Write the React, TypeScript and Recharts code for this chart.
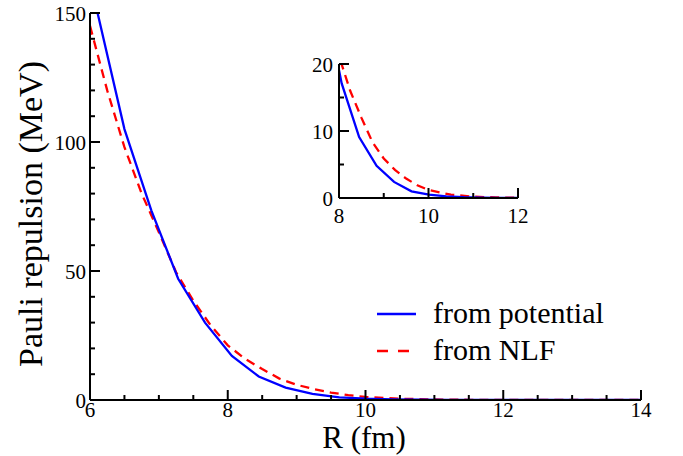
import { LineChart, Line, XAxis, YAxis } from "recharts";

// "from potential" curve (solid blue)
const R_POT = [6.11, 6.5, 6.89, 7.28, 7.67, 8.06, 8.45, 8.84, 9.23, 9.62, 10.01, 10.4, 10.79, 11.18, 11.57, 11.96, 12.35, 12.74, 13.13, 13.52, 13.91, 14.0];
const E_POT = [150, 105, 73.5, 47, 30, 17.1, 9.1, 4.8, 2.4, 1.0, 0.5, 0.25, 0.12, 0.06, 0.03, 0.01, 0, 0, 0, 0, 0, 0];

// "from NLF" curve (dashed red)
const R_NLF = [6.0, 6.25, 6.5, 6.75, 7.0, 7.25, 7.5, 7.75, 8.0, 8.25, 8.5, 8.75, 9.0, 9.25, 9.5, 9.75, 10.0, 10.5, 11.0, 11.5, 12.0, 13.0, 14.0];
const E_NLF = [145, 120, 98, 80, 65, 49.5, 38.5, 29, 21.2, 16, 12, 8.3, 5.9, 4.2, 2.9, 1.9, 1.2, 0.5, 0.2, 0.08, 0.03, 0, 0];

const MAIN_X_TICKS = [6, 6.5, 7, 7.5, 8, 8.5, 9, 9.5, 10, 10.5, 11, 11.5, 12, 12.5, 13, 13.5, 14];
const MAIN_Y_TICKS = [0, 10, 20, 30, 40, 50, 60, 70, 80, 90, 100, 110, 120, 130, 140, 150];
const INSET_X_TICKS = [8, 9, 10, 11, 12];
const INSET_Y_TICKS = [0, 5, 10, 15, 20];

const SERIES = ["from potential", "from NLF"];
const X_TITLE = "R (fm)";
const Y_TITLE = "Pauli repulsion (MeV)";

const FONT = '"Liberation Serif"';
const BLUE = "#0000ff";
const RED = "#ff0000";

const potData = R_POT.map((r, i) => ({ r, e: E_POT[i] }));
const nlfData = R_NLF.map((r, i) => ({ r, e: E_NLF[i] }));

const txt = (size: number) => ({ fontFamily: FONT, fontSize: size });

// ticks point inward, label only on major values
// eslint-disable-next-line @typescript-eslint/no-explicit-any
const BottomTick = ({ x, y, payload, major, labelDy }: any) => {
  const isMajor = payload.value % major === 0;
  return (
    <g>
      <line x1={x} x2={x} y1={y} y2={y - (isMajor ? 10 : 5)} stroke="#000" strokeWidth={2} />
      {isMajor && (
        <text x={x} y={y + labelDy} textAnchor="middle" fill="#000" style={txt(21)}>
          {payload.value}
        </text>
      )}
    </g>
  );
};

// eslint-disable-next-line @typescript-eslint/no-explicit-any
const LeftTick = ({ x, y, payload, major, gap }: any) => {
  const isMajor = payload.value % major === 0;
  return (
    <g>
      <line x1={x} x2={x + (isMajor ? 10 : 5)} y1={y} y2={y} stroke="#000" strokeWidth={2} />
      {isMajor && (
        <text x={x - gap} y={y} dy="0.36em" textAnchor="end" fill="#000" style={txt(21)}>
          {payload.value}
        </text>
      )}
    </g>
  );
};

const frame = { stroke: "#000", strokeWidth: 2 };

function Inset() {
  return (
    <LineChart width={239} height={190} margin={{ top: 10, right: 10, bottom: 0, left: 0 }}>
      <XAxis dataKey="r" type="number" domain={[8, 12]} ticks={INSET_X_TICKS} interval={0} allowDataOverflow
        height={46} tickSize={0} tickMargin={0} tickLine={false} axisLine={frame}
        tick={<BottomTick major={2} labelDy={25} />} />
      <XAxis xAxisId="top" orientation="top" type="number" domain={[8, 12]} height={0} tick={false} tickLine={false} axisLine={frame} />
      <YAxis type="number" domain={[0, 20]} ticks={INSET_Y_TICKS} interval={0} allowDataOverflow
        width={50} tickSize={0} tickMargin={0} tickLine={false} axisLine={frame}
        tick={<LeftTick major={10} gap={6} />} />
      <YAxis yAxisId="right" orientation="right" domain={[0, 20]} width={0} tick={false} tickLine={false} axisLine={frame} />
      <Line data={nlfData} dataKey="e" stroke={RED} strokeWidth={2.3} strokeDasharray="9 6" dot={false} type="linear" isAnimationActive={false} />
      <Line data={potData} dataKey="e" stroke={BLUE} strokeWidth={2.3} dot={false} type="linear" isAnimationActive={false} />
    </LineChart>
  );
}

export default function App() {
  return (
    <div style={{ position: "absolute", left: 0, top: 0, width: 683, height: 456, background: "#fff" }}>
      <LineChart width={683} height={456} margin={{ top: 13, right: 42, bottom: 0, left: 0 }}>
        <XAxis dataKey="r" type="number" domain={[6, 14]} ticks={MAIN_X_TICKS} interval={0} allowDataOverflow
          height={56} tickSize={0} tickMargin={0} tickLine={false} axisLine={frame}
          tick={<BottomTick major={2} labelDy={17} />} />
        <XAxis xAxisId="top" orientation="top" type="number" domain={[6, 14]} height={0} tick={false} tickLine={false} axisLine={frame} />
        <YAxis type="number" domain={[0, 150]} ticks={MAIN_Y_TICKS} interval={0} allowDataOverflow
          width={90} tickSize={0} tickMargin={0} tickLine={false} axisLine={frame}
          tick={<LeftTick major={50} gap={4} />} />
        <YAxis yAxisId="right" orientation="right" domain={[0, 150]} width={0} tick={false} tickLine={false} axisLine={frame} />
        <Line data={nlfData} dataKey="e" stroke={RED} strokeWidth={2.3} strokeDasharray="9 6" dot={false} type="linear" isAnimationActive={false} />
        <Line data={potData} dataKey="e" stroke={BLUE} strokeWidth={2.3} dot={false} type="linear" isAnimationActive={false} />
      </LineChart>

      <div style={{ position: "absolute", left: 289, top: 54 }}>
        <Inset />
      </div>

      <svg width={683} height={456} style={{ position: "absolute", left: 0, top: 0, pointerEvents: "none" }}>
        <line x1={377} x2={416} y1={314} y2={314} stroke={BLUE} strokeWidth={2.3} />
        <text x={433} y={323} fill="#000" style={txt(30)}>{SERIES[0]}</text>
        <line x1={377} x2={410} y1={351} y2={351} stroke={RED} strokeWidth={2.3} strokeDasharray="11 10" />
        <text x={433} y={360} fill="#000" style={txt(30)}>{SERIES[1]}</text>
        <text x={364} y={448} textAnchor="middle" fill="#000" style={txt(31)}>{X_TITLE}</text>
        <text x={42} y={214} textAnchor="middle" transform="rotate(-90 42 214)" fill="#000" style={txt(34)}>{Y_TITLE}</text>
      </svg>
    </div>
  );
}
